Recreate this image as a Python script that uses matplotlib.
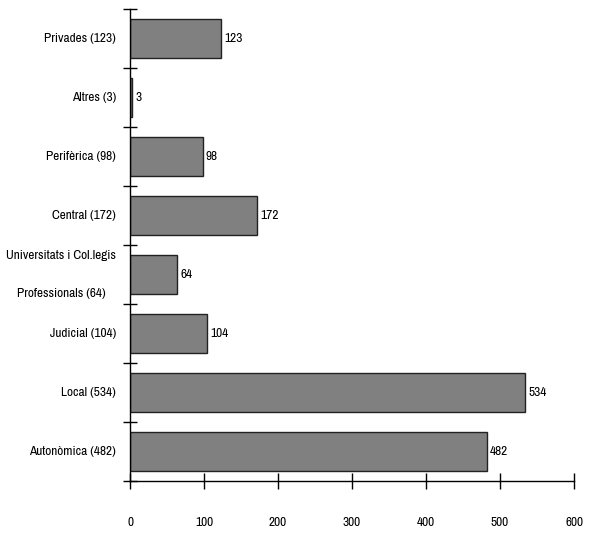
import numpy as np
import matplotlib
matplotlib.use("Agg")
import matplotlib.pyplot as plt

# dades (de baix a dalt)
categories = ["Autonòmica (482)", "Local (534)", "Judicial (104)",
              "Universitats i Col.legis\nProfessionals (64)", "Central (172)",
              "Perifèrica (98)", "Altres (3)", "Privades (123)"]
values = [482, 534, 104, 64, 172, 98, 3, 123]
xticks = [0, 100, 200, 300, 400, 500, 600]

plt.rcParams['font.family'] = ['Archivo Narrow', 'Roboto Condensed', 'DejaVu Sans']
plt.rcParams['font.size'] = 9.6

fig = plt.figure(figsize=(5.89, 5.35), dpi=100)
ax = fig.add_axes([130 / 589, 1 - 481 / 535, 444 / 589, 472 / 535])

pos = np.arange(len(values))
ax.barh(pos, values, height=0.66, color='#808080', edgecolor='#222222', linewidth=1)
for p, v in zip(pos, values):
    ax.annotate(str(v), (v, p), xytext=(2.5, 0), textcoords='offset points',
                va='center', ha='left')

ax.set_xlim(0, 600)
ax.set_ylim(-0.5, len(values) - 0.5)
ax.set_xticks(xticks)
ax.set_xticklabels([str(t) for t in xticks])
ax.tick_params(axis='x', direction='inout', length=12, width=1, pad=20)

# marques a les fronteres, etiquetes al centre
ax.set_yticks(np.arange(len(values) + 1) - 0.5)
ax.set_yticklabels([])
ax.set_yticks(pos, minor=True)
ax.set_yticklabels(categories, minor=True, multialignment='center', linespacing=3.9, va='center')
ax.tick_params(axis='y', which='major', direction='inout', length=10, width=1)
ax.tick_params(axis='y', which='minor', length=0, pad=10)

ax.spines['right'].set_visible(False)
ax.spines['top'].set_visible(False)
for s in ['left', 'bottom']:
    ax.spines[s].set_linewidth(1)

fig.savefig("out.png", dpi=100)
